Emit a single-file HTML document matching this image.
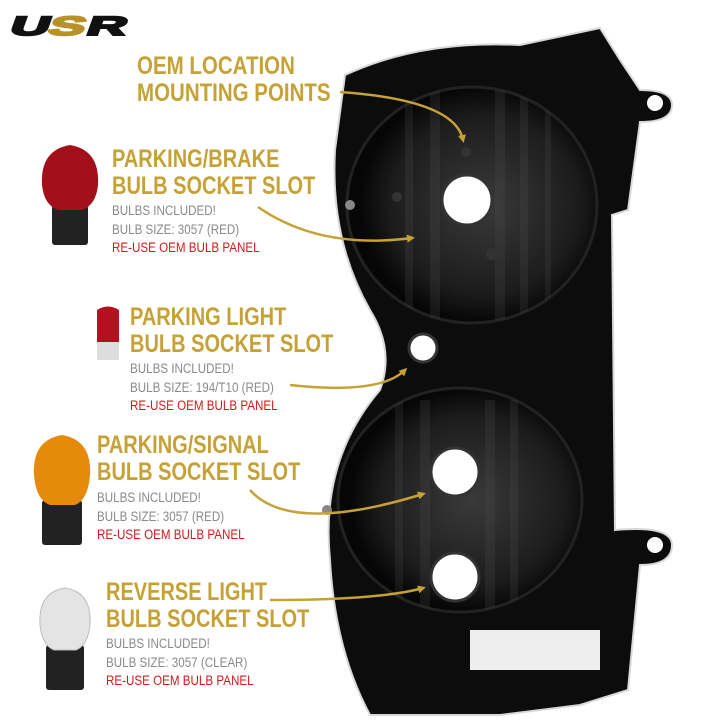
<!DOCTYPE html>
<html><head><meta charset="utf-8"><style>
html,body{margin:0;padding:0;background:#fff;}
#c{position:relative;width:720px;height:720px;overflow:hidden;background:#fff;font-family:"Liberation Sans",sans-serif;}
.t{position:absolute;color:#c6a135;font-weight:bold;font-size:25px;line-height:27px;white-space:nowrap;transform-origin:0 0;transform:scaleX(0.8);}
.s{position:absolute;color:#8a8a8a;font-size:13.5px;line-height:18.5px;white-space:nowrap;transform-origin:0 0;transform:scaleX(0.86);}
.s .r{color:#d11a1a;}
svg{position:absolute;left:0;top:0;}
</style></head><body><div id="c">
<svg width="720" height="720" viewBox="0 0 720 720">
<defs>
<radialGradient id="lens" cx="55%" cy="50%" r="50%"><stop offset="0" stop-color="#3a3a3a"/><stop offset="0.75" stop-color="#1c1c1c"/><stop offset="1" stop-color="#060606"/></radialGradient>
<clipPath id="c1"><ellipse cx="472" cy="205" rx="125" ry="118"/></clipPath>
<clipPath id="c2"><ellipse cx="460" cy="500" rx="122" ry="112"/></clipPath>
<marker id="ah" markerWidth="8" markerHeight="8" refX="5" refY="4" orient="auto" markerUnits="userSpaceOnUse"><path d="M0,0 L8,4 L0,8 Z" fill="#c6a135"/></marker>
</defs>
<path d="M345,75 Q420,40 520,45 L600,28 L620,60 L640,90 Q672,90 672,105 Q672,122 640,122 L628,210 L612,215 L615,530 Q672,525 672,545 Q672,565 640,565 L628,690 L580,705 L500,715 L370,715 Q335,650 330,560 Q320,460 380,390 Q395,350 370,310 Q330,240 335,150 Z" fill="#0c0c0c" stroke="#d8d8d8" stroke-width="2"/>
<circle cx="655" cy="103" r="8" fill="#fff"/>
<circle cx="655" cy="545" r="8" fill="#fff"/>
<ellipse cx="472" cy="205" rx="125" ry="118" fill="url(#lens)" stroke="#222" stroke-width="3"/>
<ellipse cx="460" cy="500" rx="122" ry="112" fill="url(#lens)" stroke="#222" stroke-width="3"/>
<g fill="#555" opacity="0.2" clip-path="url(#c1)">
<rect x="405" y="90" width="8" height="230"/><rect x="430" y="90" width="10" height="230"/><rect x="495" y="90" width="10" height="230"/><rect x="520" y="90" width="8" height="230"/><rect x="545" y="90" width="6" height="230"/>
</g>
<g fill="#555" opacity="0.2" clip-path="url(#c2)">
<rect x="395" y="400" width="8" height="210"/><rect x="420" y="400" width="10" height="210"/><rect x="485" y="400" width="10" height="210"/><rect x="510" y="400" width="8" height="210"/>
</g>
<circle cx="467" cy="200" r="25" fill="#fff" stroke="#333" stroke-width="3"/>
<circle cx="423" cy="348" r="14" fill="#fff" stroke="#333" stroke-width="3"/>
<circle cx="455" cy="472" r="24" fill="#fff" stroke="#333" stroke-width="3"/>
<circle cx="455" cy="577" r="24" fill="#fff" stroke="#333" stroke-width="3"/>
<circle cx="350" cy="205" r="5" fill="#888"/><circle cx="397" cy="197" r="5" fill="#333"/><circle cx="492" cy="254" r="6" fill="#333"/><circle cx="466" cy="152" r="5" fill="#333"/><circle cx="327" cy="510" r="5" fill="#888"/>
<rect x="470" y="630" width="130" height="40" fill="#eee"/>
<g fill="none" stroke="#c6a135" stroke-width="2.5">
<path d="M340,92 Q455,100 463,140" marker-end="url(#ah)"/>
<path d="M258,207 Q320,250 412,238" marker-end="url(#ah)"/>
<path d="M290,385 Q380,395 405,370" marker-end="url(#ah)"/>
<path d="M250,490 Q290,535 423,494" marker-end="url(#ah)"/>
<path d="M270,600 Q380,600 423,588" marker-end="url(#ah)"/>
</g>
<g transform="translate(8,35) skewX(-20)" font-family="Liberation Sans" font-weight="bold" font-size="34" stroke-width="2.5">
<text x="0" y="0" fill="#111" stroke="#111" transform="scale(1.6,0.78)">U</text>
<text x="24" y="0" fill="#b8912a" stroke="#b8912a" transform="scale(1.6,0.78)">S</text>
<text x="48" y="0" fill="#111" stroke="#111" transform="scale(1.6,0.78)">R</text>
</g>
<rect x="52" y="205" width="36" height="40" rx="3" fill="#222"/>
<path d="M70,145 Q100,150 98,185 Q96,205 82,210 L58,210 Q44,205 42,185 Q40,150 70,145 Z" fill="#a3101a"/>
<rect x="97" y="340" width="22" height="20" fill="#ddd"/>
<path d="M97,310 Q108,303 119,310 L119,342 L97,342 Z" fill="#b2121f"/>
<rect x="42" y="500" width="40" height="45" rx="3" fill="#222"/>
<path d="M62,435 Q92,440 90,475 Q88,500 75,505 L50,505 Q36,500 34,475 Q32,440 62,435 Z" fill="#e68a0c"/>
<rect x="46" y="645" width="38" height="45" rx="3" fill="#222"/>
<path d="M65,588 Q92,592 90,625 Q88,645 76,650 L54,650 Q42,645 40,625 Q38,592 65,588 Z" fill="#e4e4e4" stroke="#bbb"/>
</svg>
<div class="t" style="left:137px;top:53px;transform:scaleX(0.82)">OEM LOCATION<br>MOUNTING POINTS</div>
<div class="t" style="left:112px;top:146px">PARKING/BRAKE<br>BULB SOCKET SLOT</div>
<div class="s" style="left:112px;top:202px">BULBS INCLUDED!<br>BULB SIZE: 3057 (RED)<br><span class="r">RE-USE OEM BULB PANEL</span></div>
<div class="t" style="left:130px;top:304px">PARKING LIGHT<br>BULB SOCKET SLOT</div>
<div class="s" style="left:130px;top:360px">BULBS INCLUDED!<br>BULB SIZE: 194/T10 (RED)<br><span class="r">RE-USE OEM BULB PANEL</span></div>
<div class="t" style="left:97px;top:432px">PARKING/SIGNAL<br>BULB SOCKET SLOT</div>
<div class="s" style="left:97px;top:489px">BULBS INCLUDED!<br>BULB SIZE: 3057 (RED)<br><span class="r">RE-USE OEM BULB PANEL</span></div>
<div class="t" style="left:106px;top:579px">REVERSE LIGHT<br>BULB SOCKET SLOT</div>
<div class="s" style="left:106px;top:635px">BULBS INCLUDED!<br>BULB SIZE: 3057 (CLEAR)<br><span class="r">RE-USE OEM BULB PANEL</span></div>
</div></body></html>
